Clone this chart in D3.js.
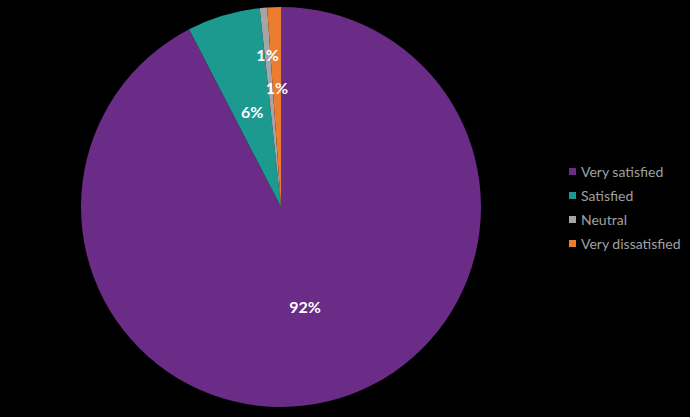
<!DOCTYPE html>
<html><head><meta charset="utf-8">
<script src="https://cdn.jsdelivr.net/npm/d3@7"></script>
<style>html,body{margin:0;padding:0;background:#000;}svg{display:block;}</style>
</head><body>
<script>
const categories = ["Very satisfied", "Satisfied", "Neutral", "Very dissatisfied"];
const values = [92.4, 5.9, 0.6, 1.1];
const labels = ["92%", "6%", "1%", "1%"];
const colors = ["#6A2C87", "#1C9A90", "#A5A5A5", "#EC7C30"];

const W = 690, H = 417;
const cx = 281, cy = 207, R = 200;
const labelRadius = [102, 100, 153, 120];

const svg = d3.select("body").append("svg").attr("width", W).attr("height", H);
svg.append("rect").attr("width", W).attr("height", H).attr("fill", "#000");

const data = categories.map((c, i) => ({cat: c, value: values[i], label: labels[i], color: colors[i], lr: labelRadius[i]}));
const pie = d3.pie().value(d => d.value).sort(null);
const arcs = pie(data);
const arc = d3.arc().innerRadius(0).outerRadius(R);

const g = svg.append("g").attr("transform", `translate(${cx},${cy})`);
g.selectAll("path").data(arcs).join("path")
  .attr("d", arc).attr("fill", d => d.data.color);

g.selectAll("text").data(arcs).join("text")
  .attr("transform", d => {
    const la = d3.arc().innerRadius(d.data.lr).outerRadius(d.data.lr);
    const [x, y] = la.centroid(d);
    return `translate(${x},${y})`;
  })
  .attr("text-anchor", "middle").attr("dy", "0.42em")
  .attr("fill", "#fff").attr("font-family", "Lato, 'Open Sans', sans-serif")
  .attr("font-weight", "bold").attr("font-size", 16)
  .text(d => d.data.label);

const leg = svg.append("g").attr("transform", "translate(569,171.5)");
const items = leg.selectAll("g").data(data).join("g")
  .attr("transform", (d, i) => `translate(0,${i * 24})`);
items.append("rect").attr("x", 0).attr("y", -3.5).attr("width", 7).attr("height", 7).attr("fill", d => d.color);
items.append("text").attr("x", 12).attr("dy", "0.37em")
  .attr("fill", "#A0A0A0").attr("font-family", "Lato, 'Open Sans', sans-serif").attr("font-size", 14)
  .text(d => d.cat);
</script>
</body></html>
